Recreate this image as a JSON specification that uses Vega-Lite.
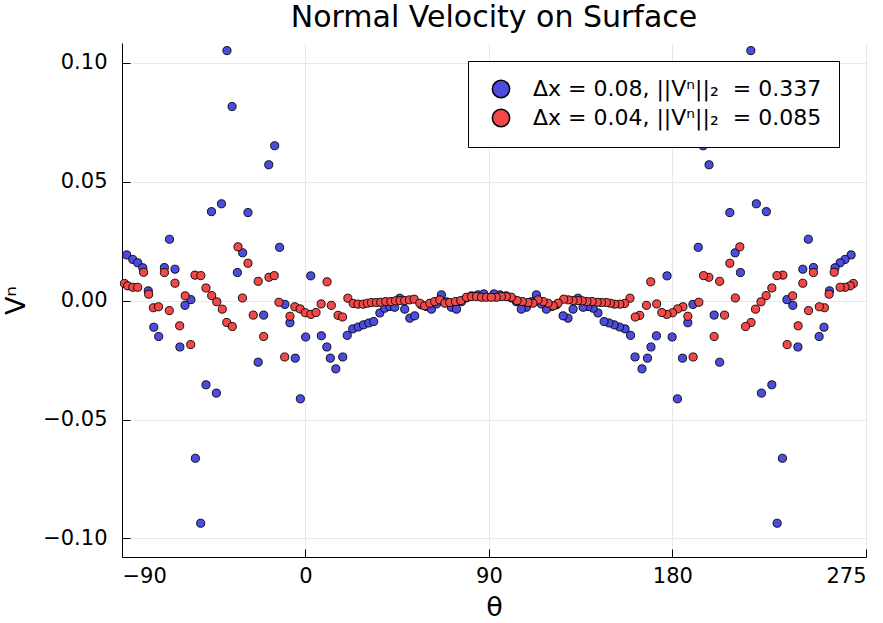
{
  "$schema": "https://vega.github.io/schema/vega-lite/v6.json",
  "width": 744,
  "height": 514,
  "autosize": "none",
  "padding": {"left": 122, "top": 43, "right": 17, "bottom": 66},
  "background": "white",
  "title": {"text": "Normal Velocity on Surface", "fontSize": 30, "font": "DejaVu Sans", "fontWeight": "normal", "color": "black", "offset": 10, "anchor": "middle"},
  "config": {
    "view": {"stroke": null},
    "axis": {"labelFont": "DejaVu Sans", "labelFontSize": 21, "labelColor": "black", "titleFont": "DejaVu Sans", "titleFontSize": 27, "titleFontWeight": "normal", "titleColor": "black", "domainColor": "black", "domainWidth": 1, "tickColor": "black", "gridColor": "#e8e8e8", "gridWidth": 1},
    "legend": {"labelFont": "DejaVu Sans"}
  },
  "datasets": {
    "pts": [
      {"t": -87.7, "v": 0.0192, "s": "a"}, {"t": -84.7, "v": 0.0173, "s": "a"}, {"t": -82.3, "v": 0.0159, "s": "a"}, {"t": -79.8, "v": 0.0138, "s": "a"},
      {"t": -77.1, "v": 0.0041, "s": "a"}, {"t": -74.4, "v": -0.0112, "s": "a"}, {"t": -72.0, "v": -0.0151, "s": "a"}, {"t": -69.2, "v": 0.0139, "s": "a"},
      {"t": -66.7, "v": 0.0258, "s": "a"}, {"t": -64.0, "v": 0.0132, "s": "a"}, {"t": -61.6, "v": -0.0195, "s": "a"}, {"t": -59.1, "v": -0.0020, "s": "a"},
      {"t": -56.2, "v": 0.0004, "s": "a"}, {"t": -54.0, "v": -0.0663, "s": "a"}, {"t": -51.4, "v": -0.0936, "s": "a"}, {"t": -48.8, "v": -0.0354, "s": "a"},
      {"t": -46.1, "v": 0.0374, "s": "a"}, {"t": -43.7, "v": -0.0389, "s": "a"}, {"t": -41.2, "v": 0.0407, "s": "a"}, {"t": -38.5, "v": 0.1051, "s": "a"},
      {"t": -36.0, "v": 0.0816, "s": "a"}, {"t": -33.4, "v": 0.0118, "s": "a"}, {"t": -30.8, "v": 0.0201, "s": "a"}, {"t": -28.2, "v": 0.0370, "s": "a"},
      {"t": -23.2, "v": -0.0259, "s": "a"}, {"t": -20.5, "v": -0.0061, "s": "a"}, {"t": -18.0, "v": 0.0571, "s": "a"}, {"t": -15.1, "v": 0.0651, "s": "a"},
      {"t": -12.7, "v": 0.0224, "s": "a"}, {"t": -10.1, "v": -0.0016, "s": "a"}, {"t": -7.6, "v": -0.0093, "s": "a"}, {"t": -5.0, "v": -0.0242, "s": "a"},
      {"t": -2.5, "v": -0.0413, "s": "a"}, {"t": 0.1, "v": -0.0153, "s": "a"}, {"t": 2.6, "v": 0.0104, "s": "a"}, {"t": 7.8, "v": -0.0148, "s": "a"},
      {"t": 10.5, "v": -0.0195, "s": "a"}, {"t": 12.2, "v": -0.0242, "s": "a"}, {"t": 14.9, "v": -0.0287, "s": "a"}, {"t": 18.3, "v": -0.0237, "s": "a"},
      {"t": 20.5, "v": -0.0146, "s": "a"}, {"t": 23.2, "v": -0.0119, "s": "a"}, {"t": 25.9, "v": -0.0111, "s": "a"}, {"t": 28.5, "v": -0.0102, "s": "a"},
      {"t": 31.1, "v": -0.0094, "s": "a"}, {"t": 33.5, "v": -0.0088, "s": "a"}, {"t": 36.5, "v": -0.0052, "s": "a"}, {"t": 38.9, "v": -0.0032, "s": "a"},
      {"t": 41.4, "v": -0.0025, "s": "a"}, {"t": 43.8, "v": -0.0028, "s": "a"}, {"t": 46.3, "v": 0.0010, "s": "a"}, {"t": 48.7, "v": -0.0036, "s": "a"},
      {"t": 51.2, "v": -0.0074, "s": "a"}, {"t": 53.6, "v": -0.0064, "s": "a"}, {"t": 56.9, "v": -0.0018, "s": "a"}, {"t": 59.4, "v": -0.0025, "s": "a"},
      {"t": 61.8, "v": -0.0036, "s": "a"}, {"t": 64.3, "v": -0.0014, "s": "a"}, {"t": 66.7, "v": 0.0024, "s": "a"}, {"t": 69.2, "v": -0.0005, "s": "a"},
      {"t": 71.6, "v": -0.0028, "s": "a"}, {"t": 74.1, "v": -0.0036, "s": "a"}, {"t": 76.5, "v": -0.0005, "s": "a"}, {"t": 78.9, "v": 0.0011, "s": "a"},
      {"t": 81.5, "v": 0.0020, "s": "a"}, {"t": 84.6, "v": 0.0024, "s": "a"}, {"t": 87.5, "v": 0.0028, "s": "a"},
      {"t": 267.7, "v": 0.0192, "s": "a"}, {"t": 264.7, "v": 0.0173, "s": "a"}, {"t": 262.3, "v": 0.0159, "s": "a"}, {"t": 259.8, "v": 0.0138, "s": "a"},
      {"t": 257.1, "v": 0.0041, "s": "a"}, {"t": 254.4, "v": -0.0112, "s": "a"}, {"t": 252.0, "v": -0.0151, "s": "a"}, {"t": 249.2, "v": 0.0139, "s": "a"},
      {"t": 246.7, "v": 0.0258, "s": "a"}, {"t": 244.0, "v": 0.0132, "s": "a"}, {"t": 241.6, "v": -0.0195, "s": "a"}, {"t": 239.1, "v": -0.0020, "s": "a"},
      {"t": 236.2, "v": 0.0004, "s": "a"}, {"t": 234.0, "v": -0.0663, "s": "a"}, {"t": 231.4, "v": -0.0936, "s": "a"}, {"t": 228.8, "v": -0.0354, "s": "a"},
      {"t": 226.1, "v": 0.0374, "s": "a"}, {"t": 223.7, "v": -0.0389, "s": "a"}, {"t": 221.2, "v": 0.0407, "s": "a"}, {"t": 218.5, "v": 0.1051, "s": "a"},
      {"t": 216.0, "v": 0.0816, "s": "a"}, {"t": 213.4, "v": 0.0118, "s": "a"}, {"t": 210.8, "v": 0.0201, "s": "a"}, {"t": 208.2, "v": 0.0370, "s": "a"},
      {"t": 203.2, "v": -0.0259, "s": "a"}, {"t": 200.5, "v": -0.0061, "s": "a"}, {"t": 198.0, "v": 0.0571, "s": "a"}, {"t": 195.1, "v": 0.0651, "s": "a"},
      {"t": 192.7, "v": 0.0224, "s": "a"}, {"t": 190.1, "v": -0.0016, "s": "a"}, {"t": 187.6, "v": -0.0093, "s": "a"}, {"t": 185.0, "v": -0.0242, "s": "a"},
      {"t": 182.5, "v": -0.0413, "s": "a"}, {"t": 179.9, "v": -0.0153, "s": "a"}, {"t": 177.4, "v": 0.0104, "s": "a"}, {"t": 172.2, "v": -0.0148, "s": "a"},
      {"t": 169.5, "v": -0.0195, "s": "a"}, {"t": 167.8, "v": -0.0242, "s": "a"}, {"t": 165.1, "v": -0.0287, "s": "a"}, {"t": 161.7, "v": -0.0237, "s": "a"},
      {"t": 159.5, "v": -0.0146, "s": "a"}, {"t": 156.8, "v": -0.0119, "s": "a"}, {"t": 154.1, "v": -0.0111, "s": "a"}, {"t": 151.5, "v": -0.0102, "s": "a"},
      {"t": 148.9, "v": -0.0094, "s": "a"}, {"t": 146.5, "v": -0.0088, "s": "a"}, {"t": 143.5, "v": -0.0052, "s": "a"}, {"t": 141.1, "v": -0.0032, "s": "a"},
      {"t": 138.6, "v": -0.0025, "s": "a"}, {"t": 136.2, "v": -0.0028, "s": "a"}, {"t": 133.7, "v": 0.0010, "s": "a"}, {"t": 131.3, "v": -0.0036, "s": "a"},
      {"t": 128.8, "v": -0.0074, "s": "a"}, {"t": 126.4, "v": -0.0064, "s": "a"}, {"t": 123.1, "v": -0.0018, "s": "a"}, {"t": 120.6, "v": -0.0025, "s": "a"},
      {"t": 118.2, "v": -0.0036, "s": "a"}, {"t": 115.7, "v": -0.0014, "s": "a"}, {"t": 113.3, "v": 0.0024, "s": "a"}, {"t": 110.8, "v": -0.0005, "s": "a"},
      {"t": 108.4, "v": -0.0028, "s": "a"}, {"t": 105.9, "v": -0.0036, "s": "a"}, {"t": 103.5, "v": -0.0005, "s": "a"}, {"t": 101.1, "v": 0.0011, "s": "a"},
      {"t": 98.5, "v": 0.0020, "s": "a"}, {"t": 95.4, "v": 0.0024, "s": "a"}, {"t": 92.5, "v": 0.0028, "s": "a"},
      {"t": -88.8, "v": 0.0072, "s": "b"}, {"t": -87.2, "v": 0.0062, "s": "b"}, {"t": -84.7, "v": 0.0056, "s": "b"}, {"t": -82.3, "v": 0.0056, "s": "b"},
      {"t": -79.4, "v": 0.0119, "s": "b"}, {"t": -76.9, "v": 0.0027, "s": "b"}, {"t": -74.6, "v": -0.0030, "s": "b"}, {"t": -72.1, "v": -0.0026, "s": "b"},
      {"t": -69.2, "v": 0.0118, "s": "b"}, {"t": -66.8, "v": -0.0042, "s": "b"}, {"t": -64.0, "v": 0.0073, "s": "b"}, {"t": -61.7, "v": -0.0106, "s": "b"},
      {"t": -59.0, "v": 0.0020, "s": "b"}, {"t": -56.3, "v": -0.0185, "s": "b"}, {"t": -54.2, "v": 0.0107, "s": "b"}, {"t": -51.3, "v": 0.0105, "s": "b"},
      {"t": -48.8, "v": 0.0053, "s": "b"}, {"t": -46.0, "v": 0.0021, "s": "b"}, {"t": -43.5, "v": -0.0005, "s": "b"}, {"t": -40.8, "v": -0.0036, "s": "b"},
      {"t": -38.6, "v": -0.0092, "s": "b"}, {"t": -35.9, "v": -0.0109, "s": "b"}, {"t": -33.1, "v": 0.0226, "s": "b"}, {"t": -30.9, "v": 0.0011, "s": "b"},
      {"t": -28.2, "v": 0.0157, "s": "b"}, {"t": -25.6, "v": -0.0061, "s": "b"}, {"t": -23.2, "v": 0.0081, "s": "b"}, {"t": -20.5, "v": -0.0151, "s": "b"},
      {"t": -17.9, "v": 0.0098, "s": "b"}, {"t": -15.3, "v": 0.0105, "s": "b"}, {"t": -13.0, "v": -0.0007, "s": "b"}, {"t": -10.2, "v": -0.0237, "s": "b"},
      {"t": -7.6, "v": -0.0066, "s": "b"}, {"t": -5.2, "v": -0.0026, "s": "b"}, {"t": -2.6, "v": -0.0035, "s": "b"}, {"t": -0.1, "v": -0.0051, "s": "b"},
      {"t": 2.7, "v": -0.0058, "s": "b"}, {"t": 5.2, "v": -0.0050, "s": "b"}, {"t": 7.7, "v": -0.0014, "s": "b"}, {"t": 10.6, "v": 0.0079, "s": "b"},
      {"t": 12.7, "v": -0.0020, "s": "b"}, {"t": 16.0, "v": -0.0062, "s": "b"}, {"t": 18.2, "v": -0.0069, "s": "b"}, {"t": 20.8, "v": 0.0010, "s": "b"},
      {"t": 23.4, "v": -0.0012, "s": "b"}, {"t": 25.8, "v": -0.0015, "s": "b"}, {"t": 28.3, "v": -0.0015, "s": "b"}, {"t": 30.4, "v": -0.0011, "s": "b"},
      {"t": 32.4, "v": -0.0008, "s": "b"}, {"t": 34.8, "v": -0.0008, "s": "b"}, {"t": 36.9, "v": -0.0007, "s": "b"}, {"t": 39.4, "v": -0.0004, "s": "b"},
      {"t": 41.9, "v": -0.0004, "s": "b"}, {"t": 44.2, "v": -0.0001, "s": "b"}, {"t": 46.4, "v": 0.0000, "s": "b"}, {"t": 48.7, "v": 0.0000, "s": "b"},
      {"t": 51.0, "v": 0.0003, "s": "b"}, {"t": 53.3, "v": 0.0006, "s": "b"}, {"t": 56.1, "v": -0.0011, "s": "b"}, {"t": 58.5, "v": -0.0022, "s": "b"},
      {"t": 61.0, "v": -0.0011, "s": "b"}, {"t": 63.4, "v": -0.0004, "s": "b"}, {"t": 65.9, "v": 0.0003, "s": "b"}, {"t": 68.4, "v": -0.0011, "s": "b"},
      {"t": 70.8, "v": -0.0008, "s": "b"}, {"t": 73.6, "v": -0.0004, "s": "b"}, {"t": 76.2, "v": 0.0000, "s": "b"}, {"t": 79.0, "v": 0.0014, "s": "b"},
      {"t": 81.5, "v": 0.0017, "s": "b"}, {"t": 83.9, "v": 0.0017, "s": "b"}, {"t": 86.4, "v": 0.0014, "s": "b"}, {"t": 88.8, "v": 0.0014, "s": "b"},
      {"t": 268.8, "v": 0.0072, "s": "b"}, {"t": 267.2, "v": 0.0062, "s": "b"}, {"t": 264.7, "v": 0.0056, "s": "b"}, {"t": 262.3, "v": 0.0056, "s": "b"},
      {"t": 259.4, "v": 0.0119, "s": "b"}, {"t": 256.9, "v": 0.0027, "s": "b"}, {"t": 254.6, "v": -0.0030, "s": "b"}, {"t": 252.1, "v": -0.0026, "s": "b"},
      {"t": 249.2, "v": 0.0118, "s": "b"}, {"t": 246.8, "v": -0.0042, "s": "b"}, {"t": 244.0, "v": 0.0073, "s": "b"}, {"t": 241.7, "v": -0.0106, "s": "b"},
      {"t": 239.0, "v": 0.0020, "s": "b"}, {"t": 236.3, "v": -0.0185, "s": "b"}, {"t": 234.2, "v": 0.0107, "s": "b"}, {"t": 231.3, "v": 0.0105, "s": "b"},
      {"t": 228.8, "v": 0.0053, "s": "b"}, {"t": 226.0, "v": 0.0021, "s": "b"}, {"t": 223.5, "v": -0.0005, "s": "b"}, {"t": 220.8, "v": -0.0036, "s": "b"},
      {"t": 218.6, "v": -0.0092, "s": "b"}, {"t": 215.9, "v": -0.0109, "s": "b"}, {"t": 213.1, "v": 0.0226, "s": "b"}, {"t": 210.9, "v": 0.0011, "s": "b"},
      {"t": 208.2, "v": 0.0157, "s": "b"}, {"t": 205.6, "v": -0.0061, "s": "b"}, {"t": 203.2, "v": 0.0081, "s": "b"}, {"t": 200.5, "v": -0.0151, "s": "b"},
      {"t": 197.9, "v": 0.0098, "s": "b"}, {"t": 195.3, "v": 0.0105, "s": "b"}, {"t": 193.0, "v": -0.0007, "s": "b"}, {"t": 190.2, "v": -0.0237, "s": "b"},
      {"t": 187.6, "v": -0.0066, "s": "b"}, {"t": 185.2, "v": -0.0026, "s": "b"}, {"t": 182.6, "v": -0.0035, "s": "b"}, {"t": 180.1, "v": -0.0051, "s": "b"},
      {"t": 177.3, "v": -0.0058, "s": "b"}, {"t": 174.8, "v": -0.0050, "s": "b"}, {"t": 172.3, "v": -0.0014, "s": "b"}, {"t": 169.4, "v": 0.0079, "s": "b"},
      {"t": 167.3, "v": -0.0020, "s": "b"}, {"t": 164.0, "v": -0.0062, "s": "b"}, {"t": 161.8, "v": -0.0069, "s": "b"}, {"t": 159.2, "v": 0.0010, "s": "b"},
      {"t": 156.6, "v": -0.0012, "s": "b"}, {"t": 154.2, "v": -0.0015, "s": "b"}, {"t": 151.7, "v": -0.0015, "s": "b"}, {"t": 149.6, "v": -0.0011, "s": "b"},
      {"t": 147.6, "v": -0.0008, "s": "b"}, {"t": 145.2, "v": -0.0008, "s": "b"}, {"t": 143.1, "v": -0.0007, "s": "b"}, {"t": 140.6, "v": -0.0004, "s": "b"},
      {"t": 138.1, "v": -0.0004, "s": "b"}, {"t": 135.8, "v": -0.0001, "s": "b"}, {"t": 133.6, "v": 0.0000, "s": "b"}, {"t": 131.3, "v": 0.0000, "s": "b"},
      {"t": 129.0, "v": 0.0003, "s": "b"}, {"t": 126.7, "v": 0.0006, "s": "b"}, {"t": 123.9, "v": -0.0011, "s": "b"}, {"t": 121.5, "v": -0.0022, "s": "b"},
      {"t": 119.0, "v": -0.0011, "s": "b"}, {"t": 116.6, "v": -0.0004, "s": "b"}, {"t": 114.1, "v": 0.0003, "s": "b"}, {"t": 111.6, "v": -0.0011, "s": "b"},
      {"t": 109.2, "v": -0.0008, "s": "b"}, {"t": 106.4, "v": -0.0004, "s": "b"}, {"t": 103.8, "v": 0.0000, "s": "b"}, {"t": 101.0, "v": 0.0014, "s": "b"},
      {"t": 98.5, "v": 0.0017, "s": "b"}, {"t": 96.1, "v": 0.0017, "s": "b"}, {"t": 93.6, "v": 0.0014, "s": "b"}, {"t": 91.2, "v": 0.0014, "s": "b"}
    ]
  },
  "data": {"name": "pts"},
  "mark": {"type": "point", "filled": true, "shape": "circle", "size": 66, "stroke": "black", "strokeWidth": 0.9, "opacity": 1},
  "encoding": {
    "x": {"field": "t", "type": "quantitative", "scale": {"domain": [-90, 275], "nice": false, "zero": false},
      "axis": {"title": "θ", "values": [-90, 0, 90, 180, 275], "format": "d", "tickSize": -8, "labelPadding": 16, "titlePadding": 8, "grid": true}},
    "y": {"field": "v", "type": "quantitative", "scale": {"domain": [-0.1078, 0.1083], "nice": false, "zero": false},
      "axis": {"title": "Vⁿ", "values": [-0.1, -0.05, 0, 0.05, 0.1], "format": ".2f", "tickSize": -8, "labelPadding": 23, "titlePadding": 12, "grid": true}},
    "color": {"field": "s", "type": "nominal",
      "scale": {"domain": ["a", "b"], "range": ["#4c4ce0", "#f24848"]},
      "legend": {"title": null, "orient": "none", "legendX": 346, "legendY": 18, "fillColor": "white", "strokeColor": "black", "padding": 17, "rowPadding": 5, "labelFontSize": 22, "labelColor": "black", "labelLimit": 500, "labelOffset": 21, "symbolOffset": 5, "symbolSize": 300, "symbolStrokeColor": "black", "symbolStrokeWidth": 1.5, "symbolType": "circle", "cornerRadius": 0,
        "labelExpr": "datum.value == 'a' ? 'Δx = 0.08, ||Vⁿ||₂\u00a0 = 0.337' : 'Δx = 0.04, ||Vⁿ||₂\u00a0 = 0.085'"}
    },
    "order": {"field": "s", "sort": "ascending"}
  }
}
